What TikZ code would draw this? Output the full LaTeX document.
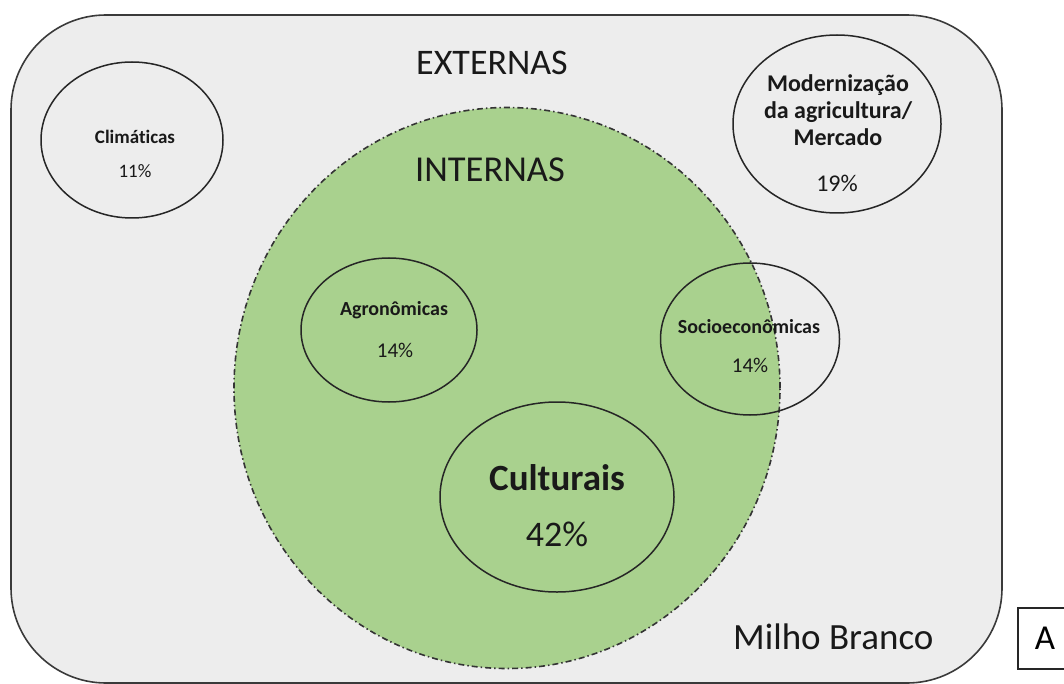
\documentclass[tikz,border=0pt]{standalone}
\usepackage{fontspec}
\setmainfont{Carlito}[Ligatures={TeX,NoCommon}]
\usetikzlibrary{shapes.geometric}
\definecolor{bggray}{HTML}{EDEDED}
\definecolor{ingreen}{HTML}{A9D18E}
\definecolor{edgegray}{HTML}{3A3A3A}
\tikzset{
  outerbox/.style={draw=edgegray, line width=1.6pt, fill=bggray, rounded corners=95pt, rectangle, inner sep=0pt},
  greenzone/.style={ellipse, draw=edgegray!90!black, fill=ingreen, line width=1.6pt, dash pattern=on 6pt off 3pt on 1.5pt off 3pt, inner sep=0pt},
  factor/.style={ellipse, draw=black!85, line width=1.5pt, inner sep=0pt},
  lbl/.style={inner sep=0pt, align=center, text=black!90},
  labelbox/.style={rectangle, draw=black!85, line width=1.2pt, inner sep=0pt}
}
\begin{document}
\begin{tikzpicture}[x=1pt,y=-1pt]
\useasboundingbox (0,0) rectangle (1064,684);
\node[outerbox, minimum width=991pt, minimum height=668pt] (outer) at (506.5,349) {};
\node[factor, minimum width=182pt, minimum height=156pt] (clim) at (132,140) {};
\node[factor, minimum width=208pt, minimum height=178pt] (moder) at (837,124) {};
\node[greenzone, minimum width=546pt, minimum height=561pt] (intern) at (507,388) {};
\node[factor, minimum width=176pt, minimum height=144pt] (agro) at (389,330) {};
\node[factor, minimum width=234pt, minimum height=190pt] (cult) at (557,497) {};
\node[factor, minimum width=179pt, minimum height=152pt] (socio) at (750,339) {};

\node[lbl, font=\fontsize{36}{40}\selectfont] (ext) at (492,63) {EXTERNAS};
\node[lbl, font=\fontsize{36.5}{40}\selectfont] (int) at (490,170) {INTERNAS};
\node[lbl, anchor=west, font=\fontsize{37}{40}\selectfont] (milho) at (733,637) {Milho Branco};

\node[lbl, font=\bfseries\fontsize{19}{22}\selectfont] (climt) at (135,137) {Climáticas};
\node[lbl, font=\fontsize{19}{22}\selectfont] (climp) at (135,171) {11\%};

\node[lbl, font=\bfseries\fontsize{24}{27}\selectfont] (modt) at (838,110) {Modernização\\da agricultura/\\Mercado};
\node[lbl, font=\fontsize{24}{27}\selectfont] (modp) at (837,183) {19\%};

\node[lbl, font=\bfseries\fontsize{20}{22}\selectfont] (agrot) at (394,310) {Agronômicas};
\node[lbl, font=\fontsize{21}{22}\selectfont] (agrop) at (395,350) {14\%};

\node[lbl, font=\bfseries\fontsize{20}{22}\selectfont] (sociot) at (749,327) {Socioeconômicas};
\node[lbl, font=\fontsize{21}{22}\selectfont] (sociop) at (750,365) {14\%};

\node[lbl, font=\bfseries\fontsize{37}{44}\selectfont] (cultt) at (557,478) {Culturais};
\node[lbl, font=\fontsize{36}{44}\selectfont] (cultp) at (557,534) {42\%};

\node[labelbox, minimum width=54pt, minimum height=61pt, font=\fontsize{35}{40}\selectfont] (tag) at (1045,638.5) {A};
\end{tikzpicture}
\end{document}
